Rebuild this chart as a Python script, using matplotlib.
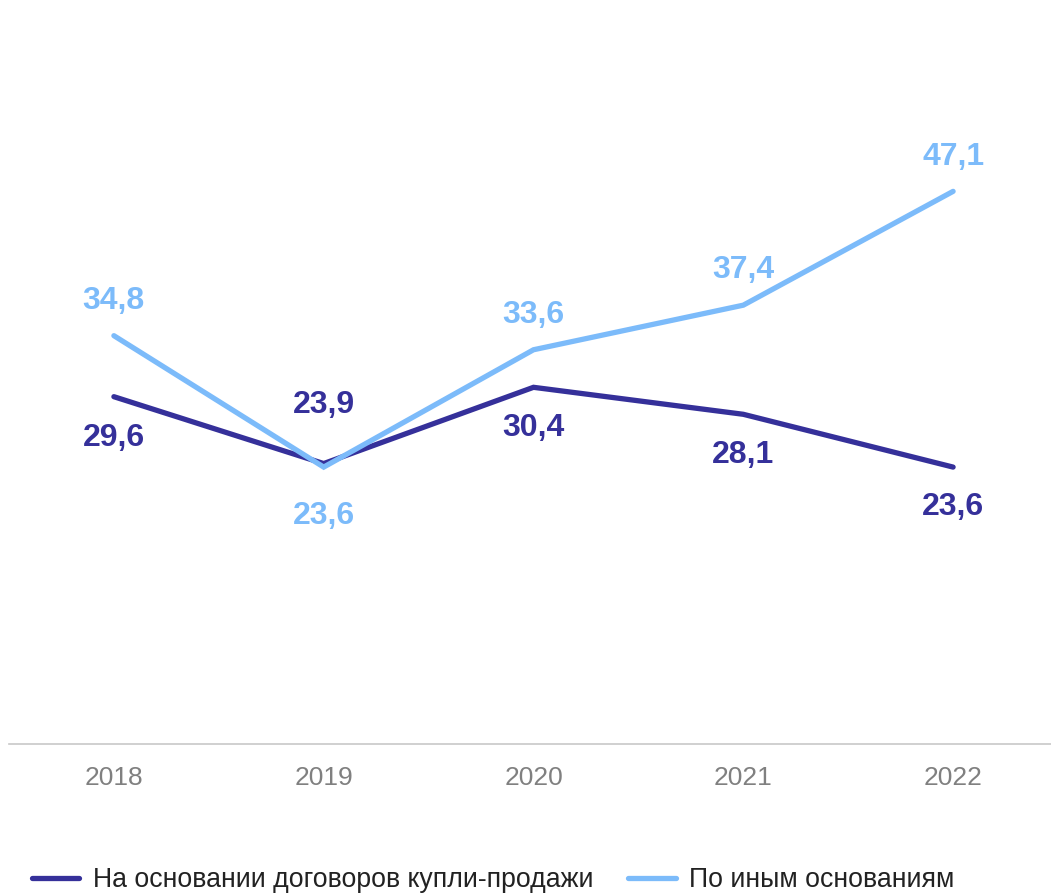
import matplotlib.pyplot as plt

plt.rcParams['font.family'] = ['Liberation Sans', 'DejaVu Sans']

years = ['2018', '2019', '2020', '2021', '2022']
sale = [29.6, 23.9, 30.4, 28.1, 23.6]
other = [34.8, 23.6, 33.6, 37.4, 47.1]

sale_labels = ['29,6', '23,9', '30,4', '28,1', '23,6']
other_labels = ['34,8', '23,6', '33,6', '37,4', '47,1']
# label offsets in points: positive = above the point
sale_off = [-30, 42, -29, -29, -29]
other_off = [25, -35, 25, 25, 25]

dark = '#35309a'
light = '#7cbbfa'

fig = plt.figure(figsize=(10.51, 8.93), dpi=100)
ax = fig.add_axes([9 / 1051, 149 / 893, 1049 / 1051, 704 / 893])

x = range(len(years))
l1, = ax.plot(x, sale, color=dark, lw=3.8, solid_joinstyle='miter',
              solid_capstyle='round',
              label='На основании договоров купли-продажи')
l2, = ax.plot(x, other, color=light, lw=3.8, solid_joinstyle='miter',
              solid_capstyle='round', label='По иным основаниям')

for i in x:
    ax.annotate(sale_labels[i], (i, sale[i]), xytext=(0, sale_off[i]),
                textcoords='offset points', ha='center', va='center',
                fontsize=23, fontweight='bold', color=dark)
    ax.annotate(other_labels[i], (i, other[i]), xytext=(0, other_off[i]),
                textcoords='offset points', ha='center', va='center',
                fontsize=23, fontweight='bold', color=light)

ax.set_xlim(-0.5, 4.5)
ax.set_ylim(0, 60)
ax.set_xticks(list(x))
ax.set_xticklabels(years, fontsize=19, color='#808080')
ax.tick_params(axis='x', length=0, pad=16)
ax.set_yticks([])
for s in ['top', 'right', 'left']:
    ax.spines[s].set_visible(False)
ax.spines['bottom'].set_color('#c8c8c8')
ax.spines['bottom'].set_linewidth(1.2)

fig.legend(handles=[l1, l2], loc='lower left', bbox_to_anchor=(0.0075, -0.027),
           ncol=2, frameon=False, fontsize=19.2, handlelength=1.78,
           handletextpad=0.5, columnspacing=1.32, labelcolor='#222222')

fig.savefig('out.png', dpi=100)
